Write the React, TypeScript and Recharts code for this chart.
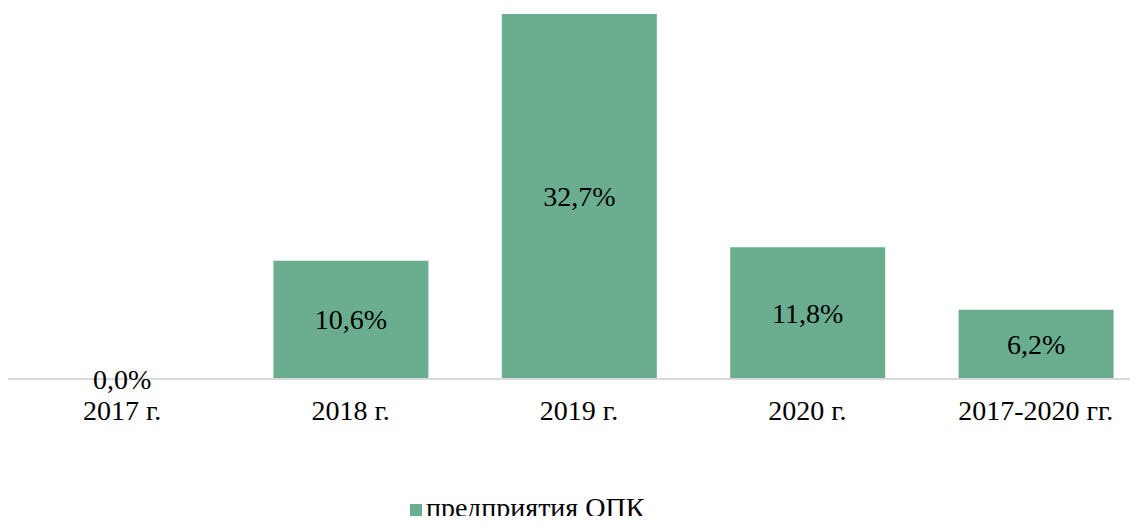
import React from 'react';
import { BarChart, Bar, XAxis, YAxis, Legend, LabelList, ReferenceDot } from 'recharts';

const categories = ['2017 г.', '2018 г.', '2019 г.', '2020 г.', '2017-2020 гг.'];
const values = [0.0, 10.6, 32.7, 11.8, 6.2];
const seriesName = 'предприятия ОПК';

const data = categories.map((c, i) => ({ name: c, value: values[i] }));

const FONT = '"Liberation Serif", "Times New Roman", serif';
const FS = 28;

const fmt = (v: any) => `${Number(v).toFixed(1).replace('.', ',')}%`;

const CenterLabel = (props: any) => {
  const { x, y, width, height, value } = props;
  return (
    <text
      x={Number(x) + Number(width) / 2}
      y={Number(y) + Number(height) / 2}
      textAnchor="middle"
      dominantBaseline="central"
      fill="#000"
      fontSize={FS}
      fontFamily={FONT}
    >
      {fmt(value)}
    </text>
  );
};

const DotLabel = (value: number) => (props: any) => {
  const vb = props.viewBox || {};
  const cx = Number(vb.x) + Number(vb.width || 0) / 2;
  const cy = Number(vb.y) + Number(vb.height || 0) / 2;
  return (
    <text
      x={cx}
      y={cy}
      textAnchor="middle"
      dominantBaseline="central"
      fill="#000"
      fontSize={FS}
      fontFamily={FONT}
    >
      {fmt(value)}
    </text>
  );
};

export default function App() {
  return (
    <div style={{ width: 1130, height: 508, fontFamily: FONT }}>
      <BarChart
        width={1130}
        height={508}
        data={data}
        margin={{ top: 6, right: -12, bottom: 0, left: 0 }}
        barSize={155}
      >
        <XAxis
          dataKey="name"
          axisLine={{ stroke: '#d9d9d9', strokeWidth: 2 }}
          tickLine={false}
          tick={{ fill: '#000', fontSize: FS, fontFamily: FONT }}
          tickMargin={15}
          height={117}
          interval={0}
        />
        <YAxis hide domain={[0, 32.7]} />
        <Legend
          verticalAlign="bottom"
          align="left"
          iconType="square"
          iconSize={12}
          height={20}
          wrapperStyle={{ left: 402, width: 320, bottom: -1.5, fontSize: FS, lineHeight: '20px', fontFamily: FONT }}
          formatter={(v: any) => <span style={{ color: '#000' }}>{v}</span>}
        />
        <Bar dataKey="value" name={seriesName} fill="#6AAD8F" isAnimationActive={false}>
          <LabelList dataKey="value" content={CenterLabel} />
        </Bar>
        {data
          .filter((d) => d.value === 0)
          .map((d) => (
            <ReferenceDot
              key={d.name}
              x={d.name}
              y={d.value}
              r={0}
              fill="none"
              stroke="none"
              ifOverflow="visible"
              label={DotLabel(d.value)}
            />
          ))}
      </BarChart>
    </div>
  );
}
